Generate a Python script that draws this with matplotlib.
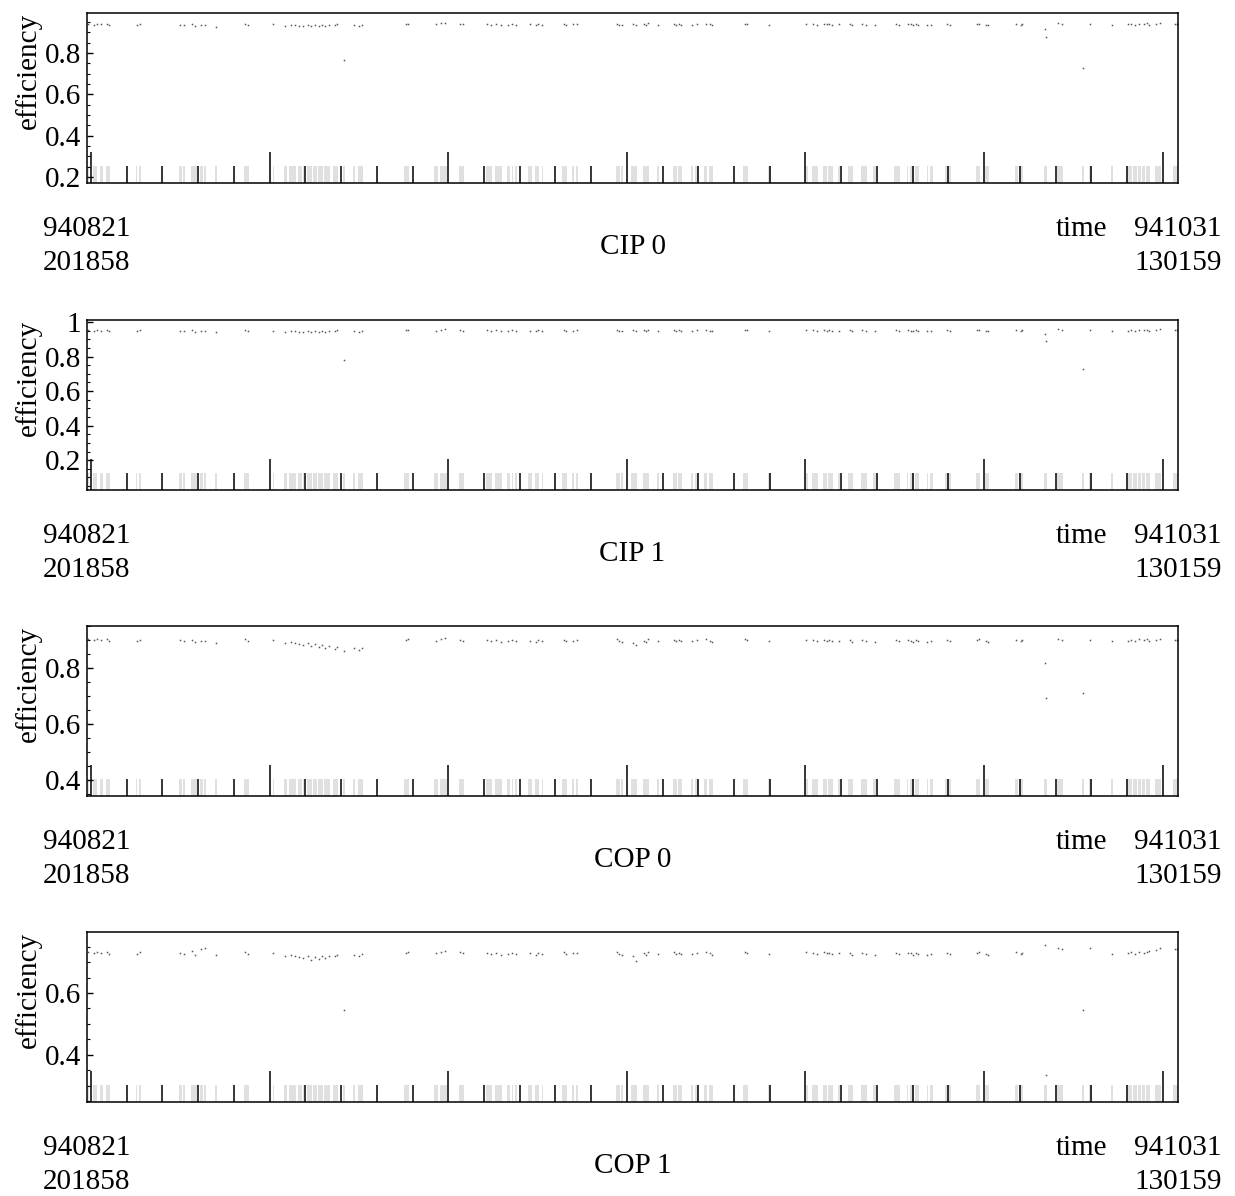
import matplotlib
matplotlib.use("Agg")
import matplotlib.pyplot as plt
import numpy as np
from matplotlib.ticker import MultipleLocator, FixedLocator, FuncFormatter

plt.rcParams["font.family"] = ["Liberation Serif", "DejaVu Serif"]
plt.rcParams["font.size"] = 21

# time span 940821 201858 -> 941031 130159, in seconds from start
t_span = 6108181.0
first_major = 22400.0

panel_names = ["CIP 0", "CIP 1", "COP 0", "COP 1"]
start_label = "940821\n201858"
end_label = "941031\n130159"

# data coverage intervals (days from start), drawn as grey rug
cover_days = [
    (0.00, 0.13), (0.37, 0.67), (0.84, 1.02), (1.23, 1.49), (3.18, 3.27), (3.39, 3.50),
    (5.96, 6.14), (6.24, 6.35), (6.72, 7.11), (7.32, 7.54), (7.58, 7.71), (8.29, 8.40),
    (10.19, 10.35), (10.39, 10.52), (12.03, 12.12), (12.77, 12.98), (13.11, 13.54),
    (13.65, 13.91), (13.98, 14.06), (14.24, 14.56), (14.66, 14.88), (14.99, 15.27),
    (15.36, 15.75), (15.96, 16.28), (16.61, 16.74), (17.22, 17.35), (17.54, 17.90),
    (20.56, 20.87), (22.49, 22.77), (22.87, 23.31), (24.11, 24.43), (25.86, 26.22),
    (26.44, 26.87), (27.20, 27.41), (27.52, 27.62), (27.73, 27.84), (28.60, 28.82),
    (29.03, 29.31), (29.46, 29.53), (30.80, 31.08), (31.41, 31.56), (31.67, 31.84),
    (34.28, 34.54), (34.60, 34.75), (35.25, 35.66), (36.01, 36.27), (36.31, 36.44),
    (36.96, 37.05), (37.95, 38.21), (38.28, 38.54), (39.14, 39.29), (39.40, 39.61),
    (39.98, 40.16), (40.31, 40.58), (42.53, 42.85), (44.15, 44.32), (46.53, 46.74),
    (46.96, 47.39), (47.67, 47.97), (48.04, 48.36), (48.68, 48.79), (49.33, 49.66),
    (50.16, 50.52), (50.95, 51.13), (52.29, 52.68), (53.12, 53.22), (53.33, 53.59),
    (53.65, 53.93), (54.41, 54.51), (54.63, 54.80), (55.60, 55.97), (57.61, 57.87),
    (58.17, 58.43), (60.13, 60.35), (60.41, 60.67), (62.01, 62.19), (62.84, 63.27),
    (64.46, 64.61), (64.93, 65.10), (66.36, 66.51), (67.37, 67.70), (67.80, 68.04),
    (68.12, 68.30), (68.38, 68.56), (68.62, 68.88), (69.21, 69.60), (70.39, 70.70),
]

# sample times (days from start)
sample_days = [
    0.05, 0.45, 0.62, 0.92, 1.30, 1.45, 3.22, 3.45, 6.05, 6.30,
    6.80, 7.02, 7.40, 7.65, 8.35, 10.25, 10.45, 12.08, 12.85, 13.20,
    13.45, 13.75, 14.02, 14.30, 14.50, 14.75, 15.05, 15.22, 15.45, 15.68,
    16.05, 16.22, 16.68, 17.28, 17.60, 17.82, 20.65, 20.80, 22.60, 22.95,
    23.22, 24.20, 24.38, 25.95, 26.15, 26.52, 26.80, 27.30, 27.57, 27.78,
    28.70, 29.10, 29.25, 29.50, 30.90, 31.02, 31.48, 31.75, 34.35, 34.50,
    34.68, 35.35, 35.58, 36.10, 36.22, 36.38, 37.00, 38.05, 38.15, 38.35,
    38.50, 39.20, 39.50, 40.08, 40.40, 40.52, 42.62, 42.80, 44.22, 46.62,
    47.05, 47.30, 47.75, 47.92, 48.10, 48.30, 48.73, 49.42, 49.60, 50.25,
    50.45, 51.05, 52.40, 52.60, 53.17, 53.40, 53.55, 53.72, 53.88, 54.46,
    54.70, 55.70, 55.90, 57.70, 57.82, 58.25, 58.38, 60.22, 60.50, 60.62,
    62.10, 62.16, 62.95, 63.20, 64.52, 65.00, 66.45, 67.45, 67.65, 67.90,
    68.20, 68.47, 68.70, 68.82, 69.30, 69.52, 70.50, 70.65,
]

cip0 = [
    0.940, 0.938, 0.941, 0.939, 0.942, 0.936, 0.934, 0.940, 0.938, 0.935,
    0.940, 0.932, 0.937, 0.935, 0.928, 0.941, 0.936, 0.939, 0.931, 0.936,
    0.934, 0.933, 0.929, 0.936, 0.931, 0.934, 0.930, 0.937, 0.933, 0.938,
    0.935, 0.940, 0.766, 0.937, 0.933, 0.936, 0.941, 0.943, 0.939, 0.944,
    0.946, 0.942, 0.939, 0.941, 0.937, 0.940, 0.936, 0.938, 0.941, 0.937,
    0.939, 0.935, 0.940, 0.937, 0.942, 0.938, 0.939, 0.941, 0.943, 0.938,
    0.936, 0.940, 0.934, 0.941, 0.937, 0.944, 0.938, 0.942, 0.936, 0.940,
    0.938, 0.937, 0.941, 0.943, 0.939, 0.935, 0.943, 0.940, 0.937, 0.942,
    0.940, 0.938, 0.942, 0.939, 0.941, 0.936, 0.939, 0.940, 0.936, 0.941,
    0.938, 0.935, 0.940, 0.937, 0.941, 0.939, 0.936, 0.940, 0.938, 0.934,
    0.938, 0.941, 0.937, 0.940, 0.943, 0.938, 0.935, 0.942, 0.938, 0.940,
    0.915, 0.879, 0.945, 0.941, 0.726, 0.940, 0.937, 0.939, 0.942, 0.936,
    0.943, 0.940, 0.944, 0.938, 0.941, 0.946, 0.940, 0.942,
]

cip1 = [
    0.952, 0.950, 0.953, 0.951, 0.954, 0.948, 0.947, 0.952, 0.950, 0.947,
    0.952, 0.945, 0.949, 0.947, 0.941, 0.953, 0.948, 0.951, 0.944, 0.948,
    0.946, 0.945, 0.942, 0.948, 0.944, 0.946, 0.943, 0.949, 0.945, 0.950,
    0.947, 0.952, 0.780, 0.949, 0.945, 0.948, 0.953, 0.955, 0.951, 0.956,
    0.958, 0.954, 0.951, 0.953, 0.949, 0.952, 0.948, 0.950, 0.953, 0.949,
    0.951, 0.947, 0.952, 0.949, 0.954, 0.950, 0.951, 0.953, 0.955, 0.950,
    0.948, 0.952, 0.946, 0.953, 0.949, 0.956, 0.950, 0.954, 0.948, 0.952,
    0.950, 0.949, 0.953, 0.955, 0.951, 0.947, 0.955, 0.952, 0.949, 0.954,
    0.952, 0.950, 0.954, 0.951, 0.953, 0.948, 0.951, 0.952, 0.948, 0.953,
    0.950, 0.947, 0.952, 0.949, 0.953, 0.951, 0.948, 0.952, 0.950, 0.946,
    0.950, 0.953, 0.949, 0.952, 0.955, 0.950, 0.947, 0.954, 0.950, 0.952,
    0.930, 0.890, 0.957, 0.953, 0.730, 0.952, 0.949, 0.951, 0.954, 0.948,
    0.955, 0.952, 0.956, 0.950, 0.953, 0.958, 0.952, 0.954,
]

cop0 = [
    0.902, 0.899, 0.903, 0.900, 0.904, 0.897, 0.895, 0.901, 0.899, 0.896,
    0.901, 0.893, 0.898, 0.895, 0.888, 0.902, 0.897, 0.900, 0.890, 0.894,
    0.889, 0.886, 0.882, 0.891, 0.878, 0.884, 0.876, 0.883, 0.872, 0.879,
    0.868, 0.874, 0.862, 0.870, 0.866, 0.873, 0.899, 0.902, 0.897, 0.903,
    0.906, 0.901, 0.898, 0.900, 0.896, 0.899, 0.894, 0.897, 0.900, 0.895,
    0.898, 0.893, 0.899, 0.896, 0.901, 0.897, 0.898, 0.900, 0.902, 0.896,
    0.893, 0.888, 0.882, 0.898, 0.894, 0.903, 0.897, 0.901, 0.895, 0.899,
    0.897, 0.896, 0.900, 0.903, 0.898, 0.894, 0.902, 0.899, 0.896, 0.901,
    0.899, 0.897, 0.901, 0.898, 0.900, 0.895, 0.898, 0.899, 0.894, 0.900,
    0.897, 0.893, 0.899, 0.896, 0.900, 0.898, 0.894, 0.899, 0.897, 0.892,
    0.897, 0.900, 0.896, 0.899, 0.902, 0.897, 0.894, 0.901, 0.897, 0.899,
    0.818, 0.693, 0.904, 0.900, 0.710, 0.899, 0.896, 0.898, 0.901, 0.895,
    0.902, 0.899, 0.903, 0.897, 0.900, 0.905, 0.899, 0.901,
]

cop1 = [
    0.732, 0.729, 0.733, 0.730, 0.734, 0.727, 0.725, 0.731, 0.729, 0.726,
    0.735, 0.722, 0.741, 0.744, 0.722, 0.732, 0.727, 0.730, 0.718, 0.722,
    0.719, 0.715, 0.712, 0.720, 0.708, 0.716, 0.711, 0.718, 0.714, 0.721,
    0.719, 0.724, 0.545, 0.722, 0.718, 0.725, 0.730, 0.733, 0.728, 0.734,
    0.737, 0.731, 0.728, 0.730, 0.726, 0.729, 0.724, 0.727, 0.730, 0.725,
    0.728, 0.723, 0.729, 0.726, 0.731, 0.727, 0.728, 0.730, 0.732, 0.726,
    0.723, 0.718, 0.703, 0.728, 0.724, 0.733, 0.727, 0.731, 0.725, 0.729,
    0.727, 0.726, 0.730, 0.733, 0.728, 0.724, 0.732, 0.729, 0.726, 0.731,
    0.729, 0.727, 0.731, 0.728, 0.730, 0.725, 0.728, 0.729, 0.724, 0.730,
    0.727, 0.723, 0.729, 0.726, 0.730, 0.728, 0.724, 0.729, 0.727, 0.722,
    0.727, 0.730, 0.726, 0.729, 0.732, 0.727, 0.724, 0.731, 0.727, 0.729,
    0.755, 0.335, 0.746, 0.742, 0.545, 0.745, 0.726, 0.728, 0.731, 0.725,
    0.732, 0.729, 0.733, 0.737, 0.740, 0.744, 0.741, 0.743,
]

panel_values = [cip0, cip1, cop0, cop1]
panel_ylims = [(0.171, 0.994), (0.027, 1.012), (0.343, 0.950), (0.248, 0.797)]
panel_yticks = [[0.2, 0.4, 0.6, 0.8], [0.2, 0.4, 0.6, 0.8, 1.0], [0.4, 0.6, 0.8], [0.4, 0.6]]

W, H = 1235, 1196
fig = plt.figure(figsize=(W / 100, H / 100), dpi=100)
ax_left, ax_right = 87, 1178
ax_h = 170
bottoms_px = [183, 490, 796, 1102]

sec_day = 86400.0
t_samples = np.array(sample_days) * sec_day

for i, name in enumerate(panel_names):
    ax = fig.add_axes([ax_left / W, 1 - bottoms_px[i] / H, (ax_right - ax_left) / W, ax_h / H])
    # grey rug of covered time
    for d0, d1 in cover_days:
        ax.axvspan(d0 * sec_day, d1 * sec_day, ymin=0, ymax=0.1, color="#e0e0e0", lw=0, zorder=1)
    ax.plot(t_samples, panel_values[i], ls="none", marker="s", ms=1.1, mew=0, color="#555555", zorder=3)

    ax.set_xlim(0, t_span)
    ax.set_ylim(*panel_ylims[i])

    ax.xaxis.set_major_locator(FixedLocator(np.arange(first_major, t_span, 1e6)))
    ax.xaxis.set_minor_locator(FixedLocator(np.arange(first_major, t_span, 2e5)))
    ax.set_xticklabels([])
    ax.tick_params(axis="x", which="major", direction="in", length=22, width=1.1, color="black", top=False)
    ax.tick_params(axis="x", which="minor", direction="in", length=12, width=1.1, color="black", top=False)

    ax.yaxis.set_major_locator(FixedLocator(panel_yticks[i]))
    ax.yaxis.set_minor_locator(MultipleLocator(0.05))
    ax.yaxis.set_major_formatter(FuncFormatter(lambda v, p: f"{v:g}"))
    ax.tick_params(axis="y", which="major", direction="in", length=4, width=1.0, pad=4, labelsize=21)
    ax.tick_params(axis="y", which="minor", direction="in", length=2, width=0.8)
    for s in ax.spines.values():
        s.set_linewidth(1.1)
        s.set_zorder(4)

    ax.text(-0.054, 1.0, "efficiency", rotation=90, ha="center", va="top",
            transform=ax.transAxes, fontsize=21)

    ax.annotate(start_label, xy=(0, 0), xycoords="axes fraction", xytext=(0, -24),
                textcoords="offset points", ha="center", va="top", fontsize=21, linespacing=1.4)
    ax.annotate(end_label, xy=(1, 0), xycoords="axes fraction", xytext=(0, -24),
                textcoords="offset points", ha="center", va="top", fontsize=21, linespacing=1.4)
    ax.annotate("time", xy=(1, 0), xycoords="axes fraction", xytext=(-51, -24),
                textcoords="offset points", ha="right", va="top", fontsize=21)
    ax.annotate(name, xy=(0.5, 0), xycoords="axes fraction", xytext=(0, -46),
                textcoords="offset points", ha="center", va="center", fontsize=21)

fig.savefig("out.png", dpi=100)
